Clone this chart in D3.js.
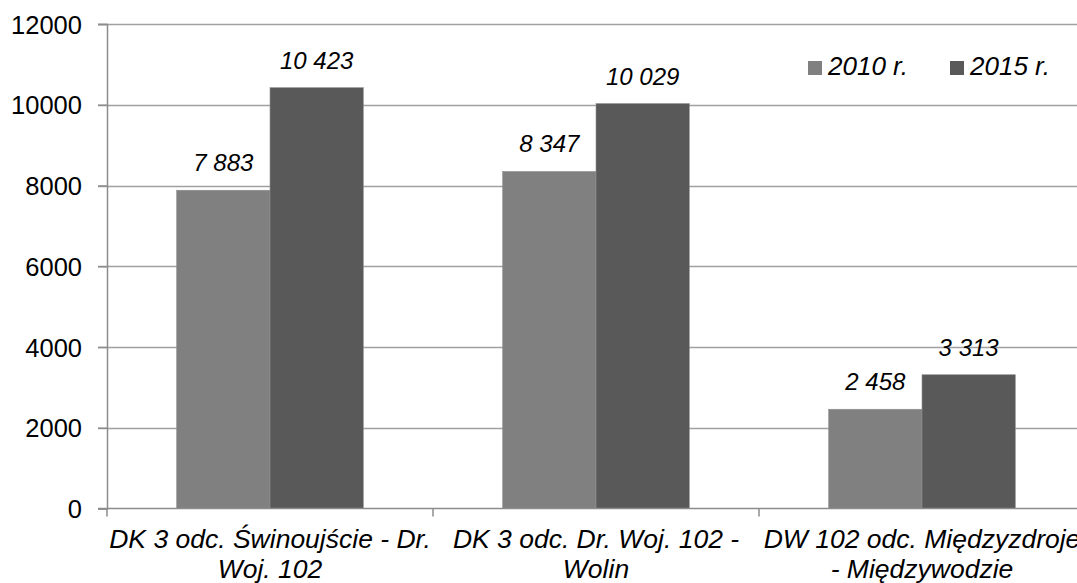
<!DOCTYPE html>
<html>
<head>
<meta charset="utf-8">
<script src="https://cdn.jsdelivr.net/npm/d3@7/dist/d3.min.js"></script>
<style>
  html, body { margin: 0; padding: 0; background: #fff; overflow: hidden; }
  svg { display: block; font-family: "Liberation Sans", Arial, sans-serif; }
</style>
</head>
<body>
<svg id="chart" width="1077" height="583"></svg>
<script>
// Road sections (each label split into display lines)
const categories = [
  "DK 3 odc. Świnoujście - Dr. Woj. 102",
  "DK 3 odc. Dr. Woj. 102 - Wolin",
  "DW 102 odc. Międzyzdroje - Międzywodzie"
];
const categoryLines = [
  ["DK 3 odc. Świnoujście - Dr.", "Woj. 102"],
  ["DK 3 odc. Dr. Woj. 102 -", "Wolin"],
  ["DW 102 odc. Międzyzdroje", "- Międzywodzie"]
];
const seriesNames = ["2010 r.", "2015 r."];
const values2010 = [7883, 8347, 2458];
const values2015 = [10423, 10029, 3313];
const yTicks = [0, 2000, 4000, 6000, 8000, 10000, 12000];
const seriesColors = ["#808080", "#595959"];

const svg = d3.select("#chart");
const margin = { left: 107, right: -8, top: 24, bottom: 74.5 };
const W = 1077, H = 583;

const x = d3.scaleBand()
  .domain(categories)
  .range([margin.left, W - margin.right])
  .paddingInner(0).paddingOuter(0);

const x1 = d3.scaleBand()
  .domain(seriesNames)
  .range([0, x.bandwidth()])
  .paddingInner(0).paddingOuter(0.747);

const y = d3.scaleLinear()
  .domain([0, 12000])
  .range([H - margin.bottom, margin.top]);

const color = d3.scaleOrdinal().domain(seriesNames).range(seriesColors);

const fmt = d3.formatLocale({ decimal: ",", thousands: " ", grouping: [3], currency: ["", ""] }).format(",d");

const rows = categories.map((c, i) => ({
  cat: c,
  values: [
    { s: seriesNames[0], v: values2010[i] },
    { s: seriesNames[1], v: values2015[i] }
  ]
}));

// Horizontal gridlines
svg.append("g")
  .selectAll("line")
  .data(yTicks.filter(t => t > 0))
  .join("line")
  .attr("x1", margin.left - 9)
  .attr("x2", W - margin.right)
  .attr("y1", d => Math.round(y(d)) + 0.5)
  .attr("y2", d => Math.round(y(d)) + 0.5)
  .attr("stroke", "#a0a0a0")
  .attr("stroke-width", 1.5);

// Bars
const groups = svg.append("g")
  .selectAll("g")
  .data(rows)
  .join("g")
  .attr("transform", d => `translate(${x(d.cat)},0)`);

groups.selectAll("rect")
  .data(d => d.values)
  .join("rect")
  .attr("x", d => x1(d.s))
  .attr("width", x1.bandwidth())
  .attr("y", d => y(d.v))
  .attr("height", d => y(0) - y(d.v))
  .attr("fill", d => color(d.s))
  .attr("stroke", "#8f8f8f")
  .attr("stroke-width", 0.6);

// Value labels
groups.selectAll("text")
  .data(d => d.values)
  .join("text")
  .attr("x", d => x1(d.s) + x1.bandwidth() / 2)
  .attr("y", d => y(d.v) - 19)
  .attr("text-anchor", "middle")
  .attr("font-size", 24)
  .attr("font-style", "italic")
  .attr("fill", "#000")
  .text(d => fmt(d.v));

// Y axis
const yAxis = svg.append("g")
  .attr("transform", `translate(${margin.left},0)`)
  .call(d3.axisLeft(y).tickValues(yTicks).tickSize(9).tickPadding(16).tickFormat(d3.format("d")));
yAxis.select(".domain").attr("stroke", "#8c8c8c").attr("stroke-width", 1.5);
yAxis.selectAll(".tick line").attr("stroke", "#8c8c8c").attr("stroke-width", 1.5);
yAxis.selectAll(".tick text")
  .attr("font-size", 25.5)
  .attr("font-family", "Liberation Sans, Arial, sans-serif")
  .attr("fill", "#000")
  .attr("dy", "0.36em");

// X axis baseline and category separators
const xAxisG = svg.append("g");
xAxisG.append("line")
  .attr("x1", margin.left - 9).attr("x2", W - margin.right)
  .attr("y1", y(0)).attr("y2", y(0))
  .attr("stroke", "#8c8c8c").attr("stroke-width", 1.5);
const sepX = categories.map(c => x(c)).concat([x(categories[categories.length - 1]) + x.bandwidth()]);
xAxisG.selectAll("line.sep")
  .data(sepX)
  .join("line")
  .attr("class", "sep")
  .attr("x1", d => d).attr("x2", d => d)
  .attr("y1", y(0)).attr("y2", y(0) + 8)
  .attr("stroke", "#8c8c8c").attr("stroke-width", 1.5);

// Category labels (two lines each)
const catLabels = xAxisG.selectAll("text.cat")
  .data(categories)
  .join("text")
  .attr("class", "cat")
  .attr("text-anchor", "middle")
  .attr("font-size", 26.5)
  .attr("font-style", "italic")
  .attr("fill", "#000");
catLabels.each(function (c, i) {
  const t = d3.select(this);
  categoryLines[i].forEach((line, j) => {
    t.append("tspan")
      .attr("x", x(c) + x.bandwidth() / 2)
      .attr("y", 548 + j * 29.5)
      .text(line);
  });
});

// Legend
const legend = svg.append("g")
  .selectAll("g")
  .data(seriesNames)
  .join("g")
  .attr("transform", (d, i) => `translate(${808 + i * 142},61)`);
legend.append("rect")
  .attr("width", 14).attr("height", 14)
  .attr("fill", d => color(d));
legend.append("text")
  .attr("x", 20).attr("y", 14)
  .attr("font-size", 26)
  .attr("font-style", "italic")
  .attr("fill", "#000")
  .text(d => d);
</script>
</body>
</html>
